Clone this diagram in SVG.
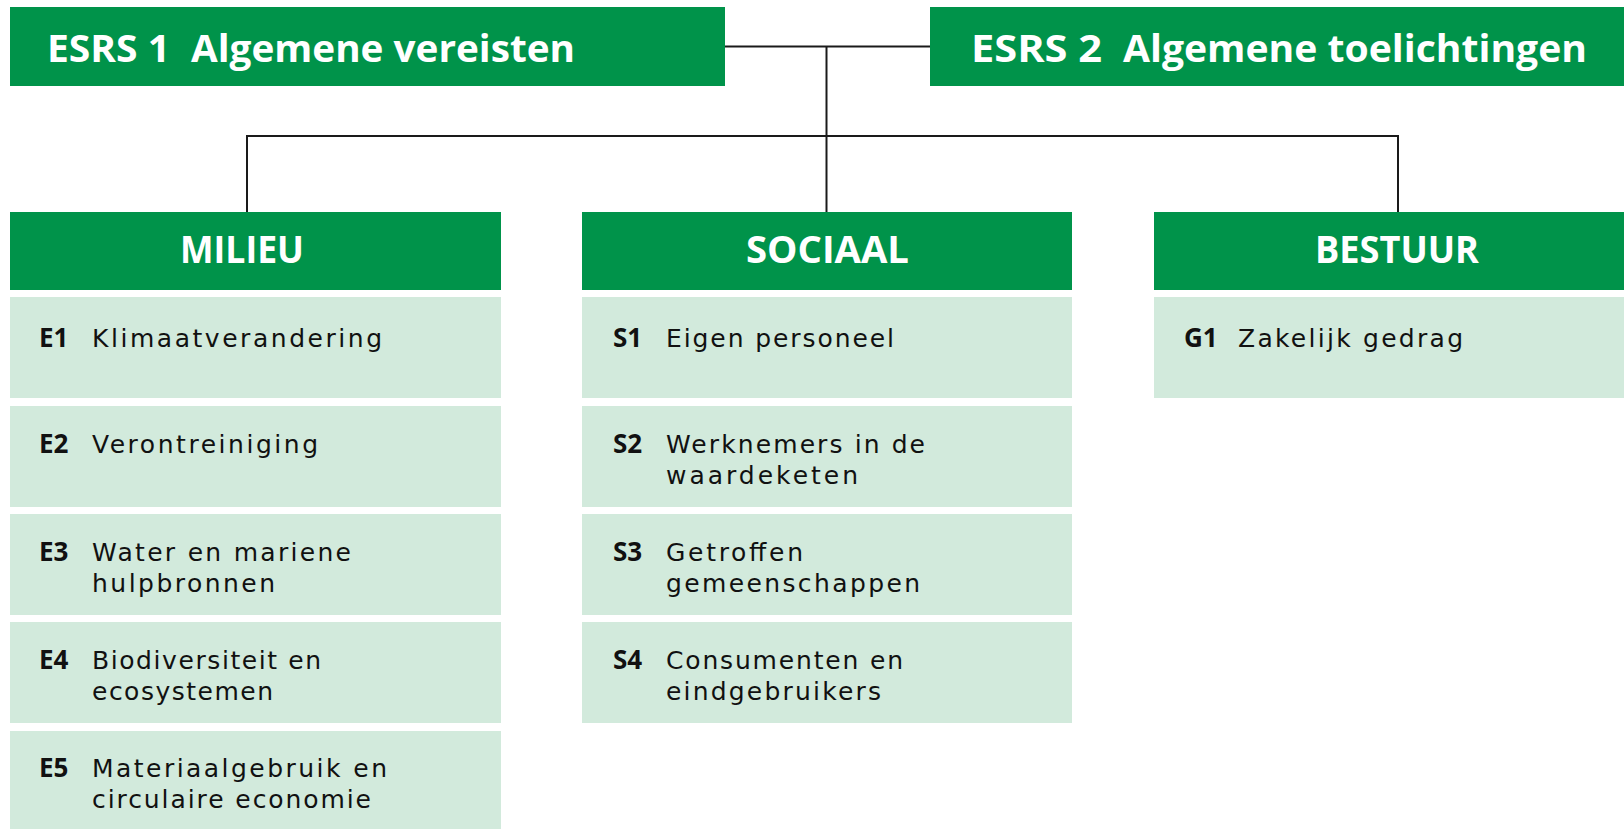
<svg xmlns="http://www.w3.org/2000/svg" width="1624" height="829" viewBox="0 0 1624 829">
<style>
.top{fill:#00934a}
.hdr{fill:#00934a}
.row{fill:#d2eadc}
.tt{font-family:"Open Sans","Liberation Sans",sans-serif;font-weight:700;font-size:37px;fill:#fff}
.ht{font-family:"Open Sans","Liberation Sans",sans-serif;font-weight:700;font-size:37px;fill:#fff;text-anchor:middle}
.code{font-family:"Open Sans","Liberation Sans",sans-serif;font-weight:700;font-size:26px;fill:#111}
.lbl{font-family:"DejaVu Sans","Liberation Sans",sans-serif;font-weight:400;font-size:25px;fill:#111}
.ln{stroke:#1a1a1a;stroke-width:2;fill:none}
</style>
<rect width="1624" height="829" fill="#fff"/>
<g id="connectors">
<path class="ln" d="M725 46.5H930"/>
<path class="ln" d="M826.5 46.5V212"/>
<path class="ln" d="M247 212V136H1398V212"/>
</g>
<g id="esrs1">
<rect class="top" x="10" y="7" width="715" height="79"/>
<text class="tt" y="62"><tspan x="47" textLength="123" lengthAdjust="spacingAndGlyphs">ESRS 1</tspan><tspan x="191" textLength="384" lengthAdjust="spacingAndGlyphs">Algemene vereisten</tspan></text>
</g>
<g id="esrs2">
<rect class="top" x="930" y="7" width="694" height="79"/>
<text class="tt" y="62"><tspan x="971" textLength="131" lengthAdjust="spacingAndGlyphs">ESRS 2</tspan><tspan x="1123" textLength="464" lengthAdjust="spacingAndGlyphs">Algemene toelichtingen</tspan></text>
</g>
<g id="milieu">
<rect class="hdr" x="10" y="212" width="491" height="78"/>
<text class="ht" x="242" y="263" textLength="124" lengthAdjust="spacingAndGlyphs">MILIEU</text>
</g>
<g id="sociaal">
<rect class="hdr" x="582" y="212" width="490" height="78"/>
<text class="ht" x="827.5" y="263" textLength="163" lengthAdjust="spacingAndGlyphs">SOCIAAL</text>
</g>
<g id="bestuur">
<rect class="hdr" x="1154" y="212" width="470" height="78"/>
<text class="ht" x="1397" y="263" textLength="164" lengthAdjust="spacingAndGlyphs">BESTUUR</text>
</g>
<g id="e1">
<rect class="row" x="10" y="297" width="491" height="101"/>
<text class="code" x="39" y="347">E1</text>
<text class="lbl" x="92" y="347" textLength="290">Klimaatverandering</text>
</g>
<g id="e2">
<rect class="row" x="10" y="406" width="491" height="101"/>
<text class="code" x="39" y="453">E2</text>
<text class="lbl" x="92" y="453" textLength="226">Verontreiniging</text>
</g>
<g id="e3">
<rect class="row" x="10" y="514" width="491" height="101"/>
<text class="code" x="39" y="561">E3</text>
<text class="lbl" y="561"><tspan x="92" textLength="259">Water en mariene</tspan><tspan x="92" dy="31" textLength="183">hulpbronnen</tspan></text>
</g>
<g id="e4">
<rect class="row" x="10" y="622" width="491" height="101"/>
<text class="code" x="39" y="669">E4</text>
<text class="lbl" y="669"><tspan x="92" textLength="229">Biodiversiteit en</tspan><tspan x="92" dy="31" textLength="181">ecosystemen</tspan></text>
</g>
<g id="e5">
<rect class="row" x="10" y="731" width="491" height="101"/>
<text class="code" x="39" y="777">E5</text>
<text class="lbl" y="777"><tspan x="92" textLength="295">Materiaalgebruik en</tspan><tspan x="92" dy="31" textLength="279">circulaire economie</tspan></text>
</g>
<g id="s1">
<rect class="row" x="582" y="297" width="490" height="101"/>
<text class="code" x="613" y="347">S1</text>
<text class="lbl" x="666" y="347" textLength="228">Eigen personeel</text>
</g>
<g id="s2">
<rect class="row" x="582" y="406" width="490" height="101"/>
<text class="code" x="613" y="453">S2</text>
<text class="lbl" y="453"><tspan x="666" textLength="259">Werknemers in de</tspan><tspan x="666" dy="31" textLength="192">waardeketen</tspan></text>
</g>
<g id="s3">
<rect class="row" x="582" y="514" width="490" height="101"/>
<text class="code" x="613" y="561">S3</text>
<text class="lbl" y="561"><tspan x="666" textLength="137">Getroffen</tspan><tspan x="666" dy="31" textLength="254">gemeenschappen</tspan></text>
</g>
<g id="s4">
<rect class="row" x="582" y="622" width="490" height="101"/>
<text class="code" x="613" y="669">S4</text>
<text class="lbl" y="669"><tspan x="666" textLength="237">Consumenten en</tspan><tspan x="666" dy="31" textLength="215">eindgebruikers</tspan></text>
</g>
<g id="g1">
<rect class="row" x="1154" y="297" width="470" height="101"/>
<text class="code" x="1184" y="347">G1</text>
<text class="lbl" x="1238" y="347" textLength="225">Zakelijk gedrag</text>
</g>
</svg>
